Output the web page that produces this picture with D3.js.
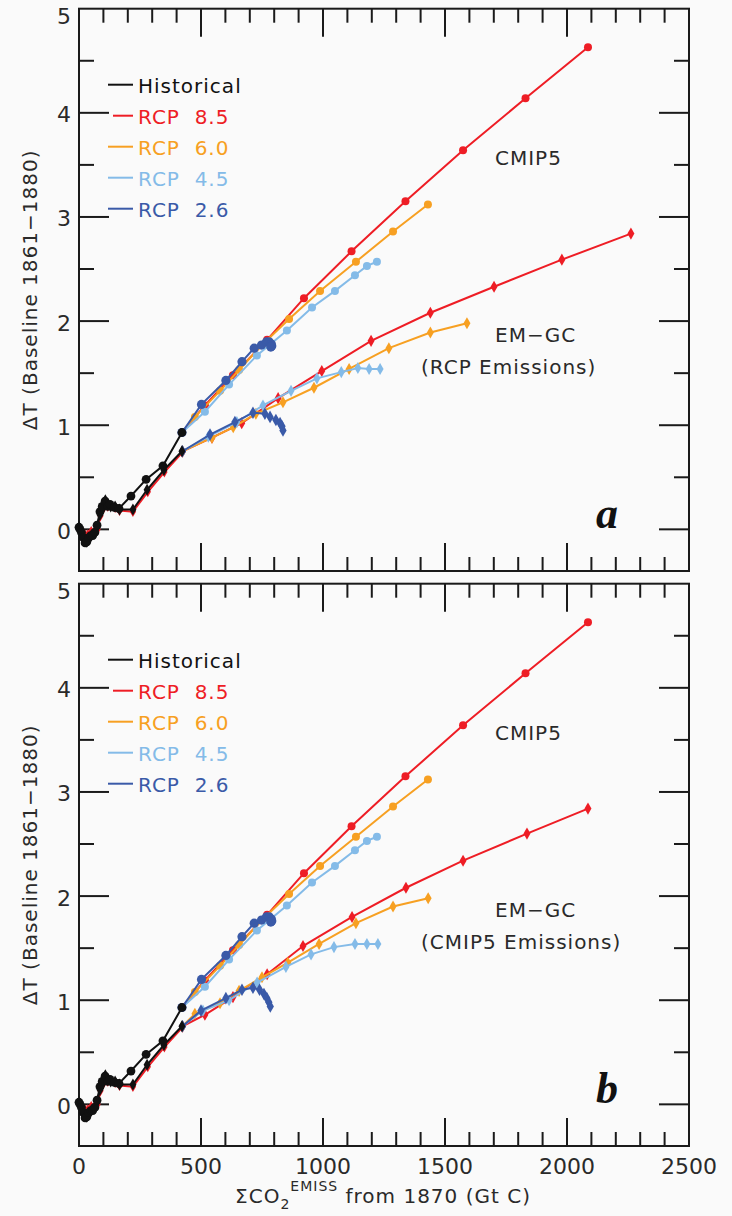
<!DOCTYPE html>
<html><head><meta charset="utf-8">
<script src="https://cdn.jsdelivr.net/npm/d3@7"></script>
<style>
html,body{margin:0;padding:0;background:#fafafa;}
svg{display:block;}
</style></head>
<body>
<svg id="chart" width="732" height="1216" font-family="DejaVu Sans, sans-serif"></svg>
<script>
// ---------- data (x = cumulative CO2 emissions Gt C, y = ΔT) ----------
const xTicks = [0, 500, 1000, 1500, 2000, 2500];
const yTicks = [0, 1, 2, 3, 4, 5];

const histCmip5 = [[0,0.02],[4,0.0],[10,-0.03],[18,-0.08],[25,-0.13],[32,-0.12],[40,-0.08],[48,-0.06],[56,-0.06],[65,-0.03],[74,0.04],[86,0.17],[95,0.22],[107,0.27],[118,0.22],[127,0.24],[145,0.21],[164,0.20],[213,0.32],[275,0.48],[344,0.61],[422,0.93]];
const histEmgc = [[0,0.02],[8,-0.02],[16,-0.07],[24,-0.11],[32,-0.12],[40,-0.09],[50,-0.06],[62,-0.04],[74,0.02],[86,0.14],[98,0.20],[108,0.28],[118,0.24],[130,0.22],[148,0.22],[166,0.19],[221,0.19],[279,0.38],[348,0.57],[422,0.75]];
const histEmgcRed = [[0,0.0],[12,-0.03],[24,-0.05],[36,-0.05],[50,-0.02],[62,-0.03],[76,0.0],[88,0.13],[100,0.20],[118,0.22],[148,0.21],[166,0.18],[221,0.17],[282,0.36],[350,0.55],[424,0.74]];

const cmip5Rcp85 = [[422,0.93],[516,1.19],[631,1.48],[771,1.82],[922,2.22],[1117,2.67],[1338,3.15],[1574,3.64],[1830,4.14],[2086,4.63]];
const cmip5Rcp60 = [[422,0.93],[475,1.08],[578,1.33],[656,1.53],[750,1.77],[861,2.02],[988,2.29],[1135,2.57],[1287,2.86],[1430,3.12]];
const cmip5Rcp45 = [[422,0.93],[516,1.13],[615,1.39],[729,1.67],[852,1.91],[955,2.13],[1049,2.29],[1131,2.44],[1180,2.53],[1221,2.57]];
const cmip5Rcp26 = [[422,0.93],[502,1.20],[602,1.43],[668,1.61],[718,1.74],[748,1.77],[768,1.80],[780,1.80],[788,1.78],[790,1.76],[786,1.75]];

// panel a : EM-GC driven by RCP emissions
const emgcRcpE85 = [[424,0.75],[545,0.88],[667,1.02],[816,1.26],[995,1.52],[1197,1.81],[1440,2.08],[1701,2.33],[1979,2.59],[2262,2.84]];
const emgcRcpE60 = [[424,0.75],[545,0.88],[632,0.98],[725,1.11],[836,1.22],[963,1.36],[1107,1.54],[1270,1.74],[1440,1.89],[1590,1.98]];
const emgcRcpE45 = [[424,0.75],[530,0.89],[647,1.03],[754,1.19],[869,1.33],[975,1.45],[1075,1.51],[1143,1.55],[1189,1.54],[1234,1.54]];
const emgcRcpE26 = [[424,0.75],[537,0.91],[639,1.03],[713,1.12],[762,1.11],[783,1.08],[807,1.05],[824,1.02],[832,0.99],[836,0.95]];

// panel b : EM-GC driven by CMIP5 emissions
const emgcCmipE85 = [[424,0.75],[516,0.86],[631,1.03],[771,1.25],[918,1.52],[1119,1.80],[1340,2.08],[1574,2.34],[1836,2.60],[2086,2.84]];
const emgcCmipE60 = [[424,0.75],[475,0.87],[578,0.97],[656,1.09],[750,1.22],[856,1.36],[984,1.54],[1135,1.74],[1287,1.90],[1431,1.98]];
const emgcCmipE45 = [[424,0.75],[508,0.90],[615,1.00],[730,1.17],[848,1.32],[951,1.44],[1045,1.51],[1131,1.54],[1180,1.54],[1225,1.54]];
const emgcCmipE26 = [[424,0.75],[500,0.90],[602,1.02],[668,1.10],[713,1.12],[740,1.10],[758,1.06],[770,1.02],[778,0.98],[784,0.94]];

const legendLabels = ["Historical", "RCP  8.5", "RCP  6.0", "RCP  4.5", "RCP  2.6"];
const colors = {hist:"#111111", r85:"#ee1d25", r60:"#f7a022", r45:"#84bbe8", r26:"#3a5aa8"};

// ---------- layout ----------
const svg = d3.select("#chart");
svg.append("rect").attr("width",732).attr("height",1216).attr("fill","#fafafa");
const X0 = 79, X1 = 689;
const x = d3.scaleLinear().domain([0,2500]).range([X0,X1]);
const textCol = "#2a2a2a";

function panel(top, emgc, letter, emgcLabel) {
  const bottom = top + 562.3;
  const y = d3.scaleLinear().domain([-0.4,5]).range([bottom, top]);
  const g = svg.append("g");

  // frame
  g.append("rect").attr("x",X0).attr("y",top).attr("width",X1-X0).attr("height",bottom-top)
    .attr("fill","none").attr("stroke","#1a1a1a").attr("stroke-width",2);

  // ticks on all four sides
  d3.range(0,2501,100).forEach(v=>{
    const major = v % 500 === 0;
    const L = major ? 28 : 14;
    if (v===0 || v===2500) return;
    g.append("line").attr("x1",x(v)).attr("x2",x(v)).attr("y1",bottom).attr("y2",bottom-L).attr("stroke","#1a1a1a").attr("stroke-width",2);
    g.append("line").attr("x1",x(v)).attr("x2",x(v)).attr("y1",top).attr("y2",top+L).attr("stroke","#1a1a1a").attr("stroke-width",2);
  });
  d3.range(0,5.01,0.5).forEach(v=>{
    const major = Math.abs(v-Math.round(v))<1e-6;
    const L = major ? 30 : 15;
    if (v===5) return;
    g.append("line").attr("x1",X0).attr("x2",X0+L).attr("y1",y(v)).attr("y2",y(v)).attr("stroke","#1a1a1a").attr("stroke-width",2);
    g.append("line").attr("x1",X1).attr("x2",X1-L).attr("y1",y(v)).attr("y2",y(v)).attr("stroke","#1a1a1a").attr("stroke-width",2);
  });

  // y tick labels
  yTicks.forEach(v=>{
    g.append("text").attr("x",64).attr("y",y(v) + (v===5 ? 8 : 2)).attr("text-anchor","middle")
      .attr("dominant-baseline","central").attr("font-size",22).attr("fill",textCol).text(v);
  });

  // y axis title
  g.append("text").attr("transform",`translate(30,${(top+bottom)/2}) rotate(-90)`)
    .attr("text-anchor","middle").attr("dominant-baseline","central").attr("font-size",20)
    .attr("letter-spacing",1).attr("fill",textCol).text("ΔT (Baseline 1861−1880)");

  const line = d3.line().x(d=>x(d[0])).y(d=>y(d[1]));
  const circ = (data,color,r) => {
    g.append("path").datum(data).attr("d",line).attr("fill","none").attr("stroke",color).attr("stroke-width",2);
    g.selectAll(null).data(data).enter().append("circle").attr("cx",d=>x(d[0])).attr("cy",d=>y(d[1])).attr("r",r).attr("fill",color);
  };
  const diam = (data,color,s) => {
    g.append("path").datum(data).attr("d",line).attr("fill","none").attr("stroke",color).attr("stroke-width",2);
    g.selectAll(null).data(data).enter().append("path")
      .attr("d",d3.symbol(d3.symbolDiamond, s)())
      .attr("transform",d=>`translate(${x(d[0])},${y(d[1])})`).attr("fill",color);
  };

  diam(histEmgcRed, colors.r85, 34);
  diam(emgc[0], colors.r85, 42);
  diam(emgc[1], colors.r60, 42);
  diam(emgc[2], colors.r45, 42);
  diam(emgc[3], colors.r26, 46);
  circ(cmip5Rcp85, colors.r85, 4);
  circ(cmip5Rcp60, colors.r60, 4);
  circ(cmip5Rcp45, colors.r45, 4);
  circ(cmip5Rcp26, colors.r26, 4.6);
  diam(histEmgc, colors.hist, 42);
  circ(histCmip5, colors.hist, 4.4);

  // legend
  const legColors = [colors.hist, colors.r85, colors.r60, colors.r45, colors.r26];
  legendLabels.forEach((t,i)=>{
    const ly = top + 76 + i*31;
    g.append("line").attr("x1", i===1 ? 113 : 108).attr("x2",133).attr("y1",ly).attr("y2",ly)
      .attr("stroke",legColors[i]).attr("stroke-width",2);
    g.append("text").attr("x",138).attr("y",ly+1).attr("dominant-baseline","central")
      .attr("font-size",20).attr("letter-spacing",1).attr("fill",legColors[i])
      .style("white-space","pre").text(t);
  });

  // annotations
  g.append("text").attr("x",495).attr("y",top+149.5).attr("dominant-baseline","central")
    .attr("font-size",20).attr("letter-spacing",1).attr("fill",textCol).text("CMIP5");
  g.append("text").attr("x",495).attr("y",top+326.5).attr("dominant-baseline","central")
    .attr("font-size",20).attr("letter-spacing",1).attr("fill",textCol).text("EM−GC");
  g.append("text").attr("x",421).attr("y",top+358.5).attr("dominant-baseline","central")
    .attr("font-size",20).attr("letter-spacing",1).attr("fill",textCol).text(emgcLabel);

  g.append("text").attr("x",596).attr("y",y(0)-1)
    .style("font-family","'Liberation Serif','Times New Roman',serif")
    .style("font-style","italic").style("font-weight","bold").style("font-size","44px")
    .attr("fill","#111").text(letter);
}

panel(8.7, [emgcRcpE85, emgcRcpE60, emgcRcpE45, emgcRcpE26], "a", "(RCP Emissions)");
panel(583.7, [emgcCmipE85, emgcCmipE60, emgcCmipE45, emgcCmipE26], "b", "(CMIP5 Emissions)");

// x tick labels
xTicks.forEach(v=>{
  svg.append("text").attr("x",x(v)).attr("y",1166).attr("text-anchor","middle")
    .attr("dominant-baseline","central").attr("font-size",22).attr("fill",textCol).text(v);
});
// x axis title
const xt = svg.append("text").attr("x",383).attr("y",1203).attr("text-anchor","middle")
  .attr("font-size",20).attr("letter-spacing",1).attr("fill",textCol);
xt.append("tspan").text("ΣCO");
xt.append("tspan").attr("dy",6).attr("font-size",14).text("2");
xt.append("tspan").attr("dy",-18).attr("font-size",14).text("EMISS");
xt.append("tspan").attr("dy",12).text(" from 1870 (Gt C)");
</script>
</body></html>
